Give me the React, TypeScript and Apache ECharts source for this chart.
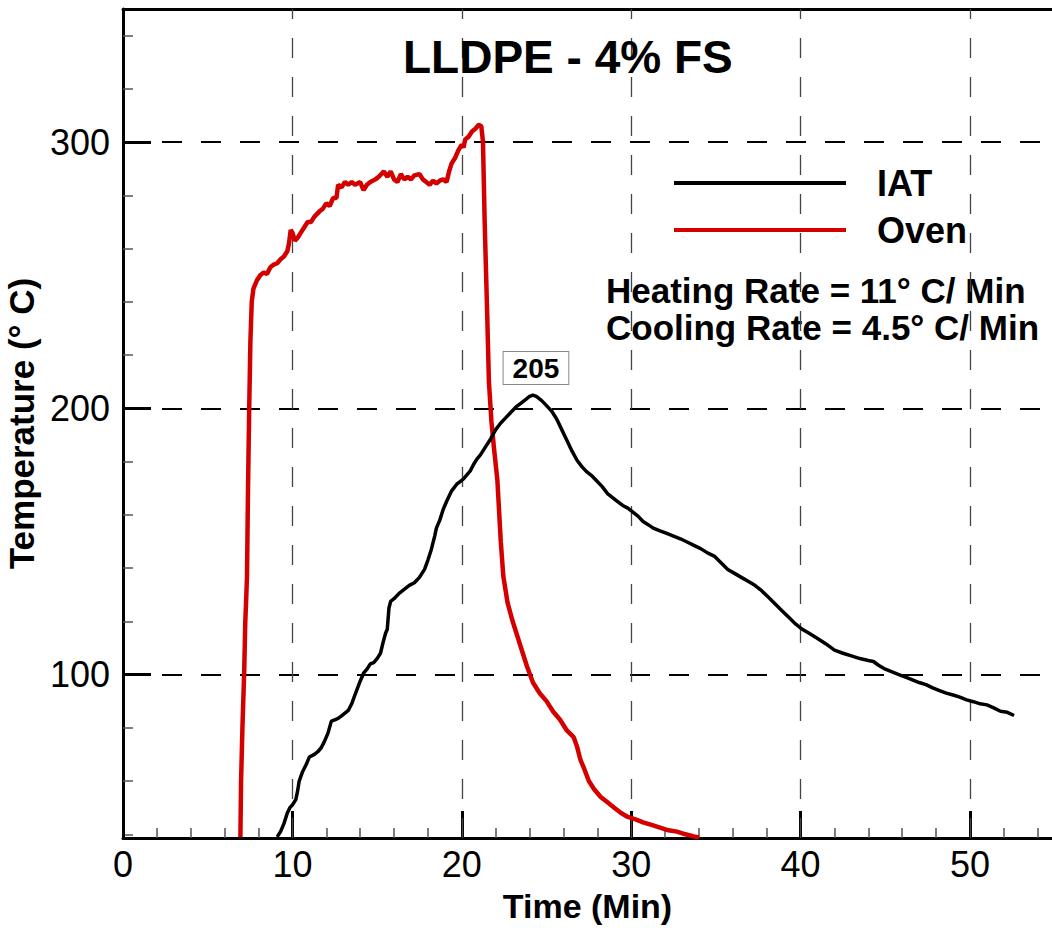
import React, { useEffect, useRef } from "react";
import * as echarts from "echarts";

const FONT = '"Liberation Sans", Arial, Helvetica, sans-serif';

const chartTitle = "LLDPE - 4% FS";
const xAxisTitle = "Time (Min)";
const yAxisTitle = "Temperature (° C)";
const rateNotes = ["Heating Rate = 11° C/ Min", "Cooling Rate = 4.5° C/ Min"];

const xRange = [0, 54.84];
const yRange = [38.6, 350];
const xMajorTicks = [0, 10, 20, 30, 40, 50];
const xMinorTicks = [2, 4, 6, 8, 12, 14, 16, 18, 22, 24, 26, 28, 32, 34, 36, 38, 42, 44, 46, 48, 52, 54];
const yMajorTicks = [100, 200, 300];
const yMinorTicks = [40, 60, 80, 120, 140, 160, 180, 220, 240, 260, 280, 320, 340];
const xGridLines = [10, 20, 30, 40, 50];
const yGridLines = [100, 200, 300];

const iatTime = [
  9.1, 9.3, 9.5, 9.7, 9.85, 10.0, 10.2, 10.3, 10.4, 10.6, 10.8, 11.0, 11.3, 11.5, 11.7, 11.9,
  12.1, 12.3, 12.5, 12.7, 12.9, 13.1, 13.3, 13.5, 13.7, 13.85, 14.0, 14.2, 14.4, 14.6, 14.8,
  15.0, 15.2, 15.35, 15.5, 15.6, 15.7, 15.8, 16.0, 16.3, 16.6, 16.9, 17.2, 17.5, 17.8, 18.0,
  18.2, 18.4, 18.5, 18.7, 18.9, 19.1, 19.4, 19.7, 19.9, 20.1, 20.3, 20.5, 20.7, 20.9, 21.1,
  21.4, 21.7, 22.0, 22.3, 22.6, 22.9, 23.2, 23.5, 23.8, 24.0, 24.2, 24.4, 24.7, 25.0, 25.3,
  25.6, 25.9, 26.2, 26.5, 26.8, 27.1, 27.4, 27.7, 28.0, 28.3, 28.6, 28.9, 29.2, 29.5, 29.8,
  30.1, 30.4, 30.7, 31.0, 31.3, 31.7, 32.1, 32.5, 32.9, 33.3, 33.7, 34.1, 34.5, 34.9, 35.3,
  35.7, 36.1, 36.5, 36.9, 37.3, 37.7, 38.1, 38.5, 38.9, 39.3, 39.7, 40.1, 40.5, 41.0, 41.5,
  42.0, 42.5, 43.0, 43.5, 44.0, 44.3, 44.6, 45.0, 45.4, 45.8, 46.2, 46.6, 47.0, 47.4, 47.8,
  48.2, 48.6, 49.0, 49.4, 49.8, 50.2, 50.6, 51.0, 51.4, 51.8, 52.2, 52.6,
];
const iatTemp = [
  39, 41, 44, 48, 50, 51, 53, 56, 60, 63.5, 66, 69, 70, 71, 72.5, 75,
  78, 82.5, 83, 83.5, 84.5, 85.5, 86.5, 89, 92.5, 95, 97.5, 100.5, 102, 104, 104.5,
  106, 108, 112, 115.5, 117, 125, 127.5, 128.5, 130.5, 132, 133.5, 134.5, 136.5, 139.5, 143,
  147, 152, 155, 158, 162, 165, 169, 171.5, 172.5, 173.5, 175, 176.5, 179, 181, 182.5,
  185.5, 188.5, 192, 194.5, 196.5, 198.5, 200.5, 202, 203.5, 204.5, 205, 204.5, 203, 201, 199,
  196, 192, 188, 184, 180.5, 178, 176, 174.5, 172.5, 170.5, 168, 166.5, 165, 163.5, 162.5,
  161, 159.5, 157.5, 156.3, 155, 154, 153, 152, 151, 149.8, 148.5, 147.3, 145.7, 144.5, 142,
  139.5, 138, 136.5, 135, 133.5, 131.5, 129, 126.5, 124, 121.5, 119, 117, 115.5, 113.5, 111.5,
  109.2, 108, 107, 106, 105.3, 104.9, 103.5, 102, 101, 100, 99, 98, 97, 96.2, 95,
  94, 93, 92.3, 91.5, 90.5, 89.8, 89, 88.6, 87.5, 86.2, 85.8, 84.6,
];

const ovenTime = [
  6.93, 6.97, 7.05, 7.15, 7.22, 7.27, 7.32, 7.38, 7.45, 7.52, 7.6, 7.7, 7.9, 8.1, 8.3, 8.5,
  8.7, 8.9, 9.1, 9.3, 9.5, 9.7, 9.8, 9.9, 10.0, 10.15, 10.3, 10.5, 10.7, 10.9, 11.1, 11.3,
  11.6, 11.8, 12.0, 12.2, 12.4, 12.6, 12.7, 12.9, 13.1, 13.3, 13.5, 13.7, 14.0, 14.2, 14.4,
  14.6, 14.9, 15.1, 15.4, 15.6, 15.8, 16.0, 16.2, 16.4, 16.6, 16.8, 17.0, 17.2, 17.5, 17.7,
  17.9, 18.1, 18.3, 18.5, 18.7, 18.9, 19.1, 19.25, 19.4, 19.6, 19.8, 20.0, 20.1, 20.2, 20.4,
  20.6, 20.8, 21.0, 21.15, 21.25, 21.35, 21.5, 21.6, 21.75, 21.9, 22.1, 22.3, 22.45, 22.7,
  23.0, 23.3, 23.6, 23.85, 24.2, 24.6, 25.0, 25.4, 25.8, 26.2, 26.6, 26.8, 27.0, 27.2, 27.5,
  27.8, 28.2, 28.6, 29.0, 29.4, 29.8, 30.3, 30.7, 31.2, 31.7, 32.2, 32.7, 33.2, 33.7, 34.0,
];
const ovenTemp = [
  39, 60, 80, 100, 120, 128, 137, 170, 200, 225, 240, 245, 248, 250, 251, 250.5,
  253, 254, 254.5, 256, 257, 259, 262, 267, 266, 263, 264, 266, 268, 270, 270, 272,
  274, 275, 277, 276, 279, 279, 284, 283, 285, 284, 285, 284, 285, 282, 284,
  285, 286, 287, 289, 287, 289, 286, 285, 288, 286, 287, 286, 287.5, 288, 286,
  285, 284, 285.5, 284.5, 285.5, 286, 285, 289, 292, 294, 297, 299, 298, 301, 302,
  304, 305, 306.5, 306, 300, 270, 235, 210, 195, 185, 173, 150, 137, 127,
  120, 114, 108, 103, 97, 93, 90, 86, 83, 79, 76.5, 73, 68, 65, 60,
  57, 54, 52, 50, 48, 46.5, 45.5, 44.5, 43.5, 42.5, 41.5, 41, 40, 39.2, 38.8,
];

const peakTime = 24.2;
const peakValue = 205;

const zip = (a: number[], b: number[]) => a.map((v, i) => [v, b[i]]);

export default function App() {
  const ref = useRef<HTMLDivElement>(null);

  useEffect(() => {
    if (!ref.current) return;
    const chart = echarts.init(ref.current, null, { renderer: "svg" });

    const hGridStyle = { color: "#000", width: 2, type: [20, 19] as number[] };
    const vGridStyle = { color: "#444", width: 1.3, type: [20, 19] as number[] };

    const option: any = {
      animation: false,
      backgroundColor: "#fff",
      textStyle: { fontFamily: FONT },
      title: {
        text: chartTitle,
        left: 398,
        top: 29,
        padding: 5,
        textStyle: { fontSize: 46, fontWeight: "bold", color: "#000", fontFamily: FONT },
      },
      legend: {
        orient: "vertical",
        left: 674,
        top: 163,
        padding: 0,
        itemWidth: 172,
        itemHeight: 4,
        itemGap: 7,
        icon: "rect",
        selectedMode: false,
        data: ["IAT", "Oven"],
        textStyle: {
          fontSize: 36,
          fontWeight: "bold",
          color: "#000",
          fontFamily: FONT,
          lineHeight: 40,
          padding: [0, 0, 0, 26],
        },
      },
      grid: {
        left: 123,
        right: 0,
        top: 9,
        bottom: 90,
        containLabel: false,
        outerBoundsMode: "none",
      },
      xAxis: [
        {
          type: "value",
          min: xRange[0],
          max: xRange[1],
          position: "bottom",
          name: xAxisTitle,
          nameLocation: "middle",
          nameGap: 51,
          nameTextStyle: { fontSize: 34, fontWeight: "bold", color: "#000", fontFamily: FONT },
          axisLine: { show: true, onZero: false, lineStyle: { color: "#000", width: 3 } },
          axisTick: {
            show: true,
            inside: true,
            length: 27,
            customValues: xMajorTicks,
            lineStyle: { color: "#000", width: 3 },
          },
          axisLabel: {
            show: true,
            customValues: xMajorTicks,
            fontSize: 36,
            color: "#000",
            margin: 8,
            fontFamily: FONT,
          },
          splitLine: { show: false },
        },
        {
          type: "value",
          min: xRange[0],
          max: xRange[1],
          position: "bottom",
          axisLine: { show: false, onZero: false },
          axisTick: {
            show: true,
            inside: true,
            length: 10,
            customValues: xMinorTicks,
            lineStyle: { color: "#555", width: 1.5 },
          },
          axisLabel: { show: false },
          splitLine: { show: false },
        },
        {
          type: "value",
          min: xRange[0],
          max: xRange[1],
          position: "top",
          axisLine: { show: true, onZero: false, lineStyle: { color: "#000", width: 3 } },
          axisTick: { show: false },
          axisLabel: { show: false },
          splitLine: { show: false },
        },
      ],
      yAxis: [
        {
          type: "value",
          min: yRange[0],
          max: yRange[1],
          position: "left",
          name: yAxisTitle,
          nameLocation: "middle",
          nameRotate: 90,
          nameGap: 75,
          nameTextStyle: { fontSize: 35, fontWeight: "bold", color: "#000", fontFamily: FONT },
          axisLine: { show: true, onZero: false, lineStyle: { color: "#000", width: 3 } },
          axisTick: {
            show: true,
            inside: true,
            length: 28,
            customValues: yMajorTicks,
            lineStyle: { color: "#000", width: 3 },
          },
          axisLabel: {
            show: true,
            customValues: yMajorTicks,
            fontSize: 36,
            color: "#000",
            margin: 13,
            fontFamily: FONT,
          },
          splitLine: { show: false },
        },
        {
          type: "value",
          min: yRange[0],
          max: yRange[1],
          position: "left",
          axisLine: { show: false, onZero: false },
          axisTick: {
            show: true,
            inside: true,
            length: 10,
            customValues: yMinorTicks,
            lineStyle: { color: "#555", width: 1.5 },
          },
          axisLabel: { show: false },
          splitLine: { show: false },
        },
      ],
      series: [
        {
          name: "IAT",
          type: "line",
          xAxisIndex: 0,
          yAxisIndex: 0,
          data: zip(iatTime, iatTemp),
          showSymbol: false,
          symbol: "none",
          color: "#000",
          lineStyle: { color: "#000", width: 3.5 },
          z: 3,
          markLine: {
            silent: true,
            symbol: "none",
            z: 1,
            label: { show: false },
            emphasis: { disabled: true },
            data: [
              ...yGridLines.map((v) => ({ yAxis: v, lineStyle: hGridStyle })),
              ...xGridLines.map((v) => ({ xAxis: v, lineStyle: vGridStyle })),
            ],
          },
          markPoint: {
            silent: true,
            symbol: "rect",
            symbolSize: 0,
            data: [{ coord: [peakTime, peakValue], value: peakValue }],
            label: {
              show: true,
              position: "top",
              distance: 11,
              offset: [3, 0],
              formatter: String(peakValue),
              fontSize: 28,
              fontWeight: "bold",
              color: "#000",
              fontFamily: FONT,
              backgroundColor: "#fff",
              borderColor: "#888",
              borderWidth: 1,
              lineHeight: 28,
              padding: [2, 9, 2, 9],
            },
          },
        },
        {
          name: "Oven",
          type: "line",
          xAxisIndex: 0,
          yAxisIndex: 0,
          data: zip(ovenTime, ovenTemp),
          showSymbol: false,
          symbol: "none",
          color: "#d40000",
          lineStyle: { color: "#d40000", width: 4.5 },
          z: 2,
        },
      ],
      graphic: rateNotes.map((t, i) => ({
        type: "text",
        x: 606,
        y: 290 + i * 37,
        silent: true,
        style: {
          text: t,
          fontSize: 35,
          fontWeight: "bold",
          fontFamily: FONT,
          fill: "#000",
          align: "left",
          verticalAlign: "middle",
        },
      })),
    };

    chart.setOption(option);
    return () => chart.dispose();
  }, []);

  return (
    <div
      ref={ref}
      style={{ position: "absolute", left: 0, top: 0, width: 1052, height: 928, background: "#fff" }}
    />
  );
}
